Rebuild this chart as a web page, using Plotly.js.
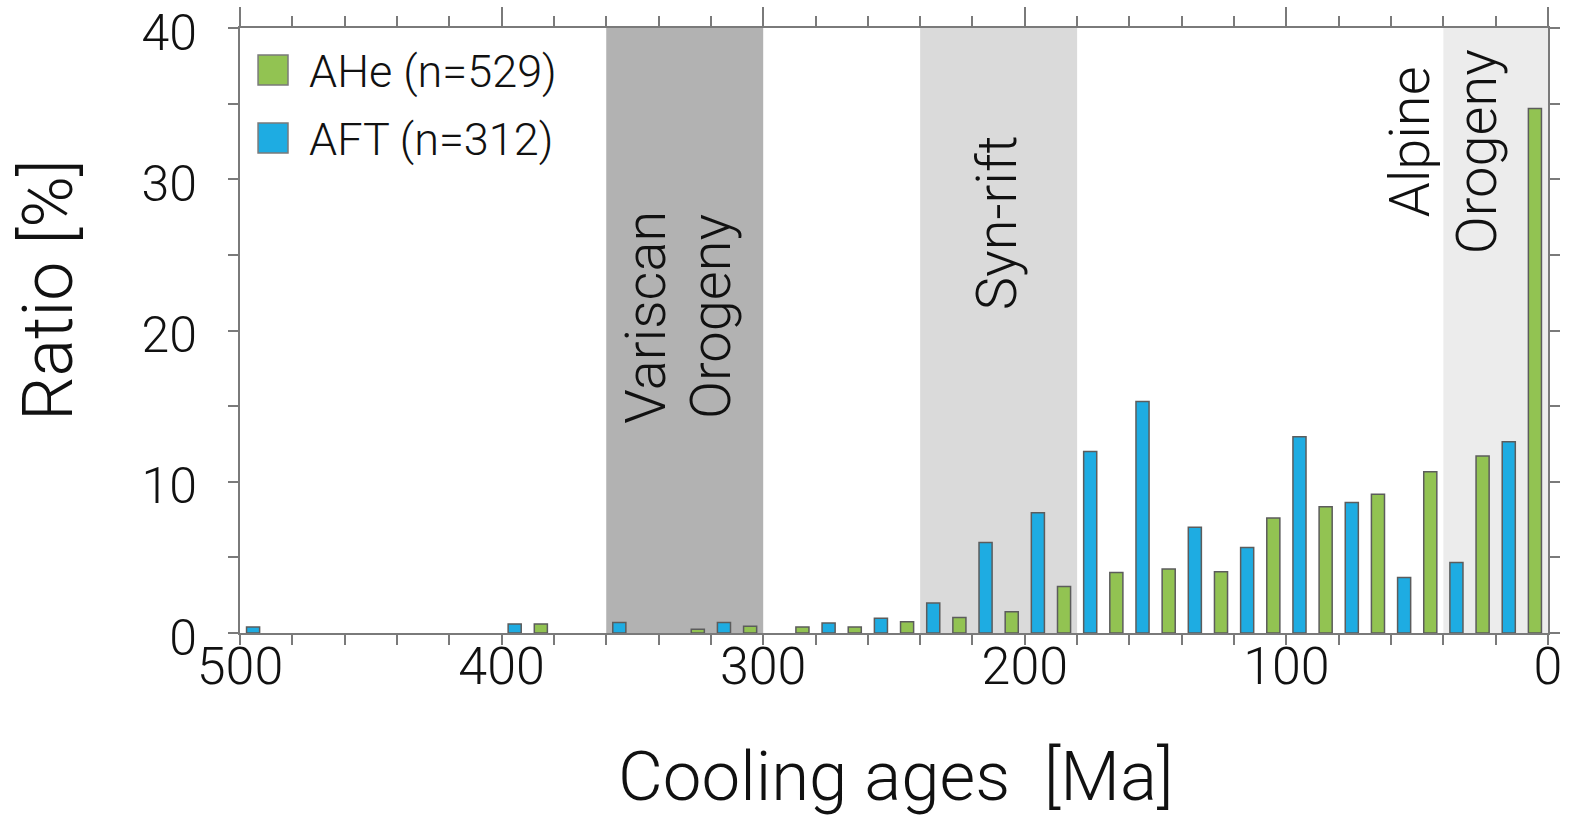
<!DOCTYPE html>
<html>
<head>
<meta charset="utf-8">
<script src="https://cdn.plot.ly/plotly-3.0.1.min.js"></script>
<style>html,body{margin:0;padding:0;background:#fff;}#chart{width:1570px;height:817px;}</style>
</head>
<body>
<div id="chart"></div>
<script>
// ---- data ----
const aftAges  = [495, 395, 355, 315, 275, 255, 235, 215, 195, 175, 155, 135, 115, 95, 75, 55, 35, 15];
const aftRatio = [0.4, 0.6, 0.7, 0.7, 0.66, 0.97, 1.98, 5.98, 7.95, 12.0, 15.3, 7.0, 5.65, 12.97, 8.63, 3.67, 4.66, 12.65];
const aheAges  = [385, 325, 305, 285, 265, 245, 225, 205, 185, 165, 145, 125, 105, 85, 65, 45, 25, 5];
const aheRatio = [0.6, 0.25, 0.45, 0.4, 0.4, 0.75, 1.02, 1.4, 3.08, 4.0, 4.23, 4.05, 7.6, 8.35, 9.17, 10.66, 11.7, 34.68];
const seriesNames = ["AHe (n=529)", "AFT (n=312)"];
const seriesColors = ["#92c352", "#1eace2"];

const periodNames  = ["Variscan", "Syn-rift", "Alpine"];
const periodStart  = [360, 240, 40];
const periodEnd    = [300, 180, 0];
const periodColors = ["#b2b2b2", "#dadada", "#ececec"];

const xTickVals = [500, 400, 300, 200, 100, 0];
const yTickVals = [0, 10, 20, 30, 40];

const FONT = "Roboto, Liberation Sans, Arial, sans-serif";
const W = 300;
const AXC = "#7a7a7a";
const BAR_W = 5;

const traces = [
  {type: "bar", name: seriesNames[1], x: aftAges, y: aftRatio, width: BAR_W,
   marker: {color: seriesColors[1], line: {color: "#5c5c5c", width: 1.5}}, showlegend: false},
  {type: "bar", name: seriesNames[0], x: aheAges, y: aheRatio, width: BAR_W,
   marker: {color: seriesColors[0], line: {color: "#5c5c5c", width: 1.5}}, showlegend: false},
  {type: "scatter", x: [null], y: [null], xaxis: "x2", yaxis: "y", showlegend: false, hoverinfo: "skip"}
];

const shapes = periodNames.map((n, i) => ({
  type: "rect", xref: "x", yref: "paper", x0: periodStart[i], x1: periodEnd[i], y0: 0, y1: 1,
  fillcolor: periodColors[i], line: {width: 0}, layer: "below"
}));

// legend swatches (drawn manually to get large squares)
const legY = [0.9306, 0.8182];
seriesNames.forEach((n, i) => {
  shapes.push({type: "rect", xref: "paper", yref: "paper",
    x0: 0.0138, x1: 0.0367, y0: legY[i] - 0.0248, y1: legY[i] + 0.0248,
    fillcolor: seriesColors[i], line: {color: "#7a7a7a", width: 1.5}});
});

const annFont = {family: FONT, size: 56, color: "#111", weight: W};
const annotations = [
  {text: "Variscan", x: 344.8, y: 20.85, xref: "x", yref: "y", textangle: -90, showarrow: false, font: annFont, xanchor: "center", yanchor: "middle"},
  {text: "Orogeny",  x: 320,   y: 20.95, xref: "x", yref: "y", textangle: -90, showarrow: false, font: annFont, xanchor: "center", yanchor: "middle"},
  {text: "Syn-rift", x: 210.6, y: 27.1,  xref: "x", yref: "y", textangle: -90, showarrow: false, font: annFont, xanchor: "center", yanchor: "middle"},
  {text: "Alpine",   x: 52.4,  y: 32.5,  xref: "x", yref: "y", textangle: -90, showarrow: false, font: annFont, xanchor: "center", yanchor: "middle"},
  {text: "Orogeny",  x: 27.1,  y: 31.8,  xref: "x", yref: "y", textangle: -90, showarrow: false, font: annFont, xanchor: "center", yanchor: "middle"},
  // legend text
  {text: seriesNames[0], x: 0.0510, y: 0.9273, xref: "paper", yref: "paper", showarrow: false, xanchor: "left", yanchor: "middle", font: {family: FONT, size: 45, color: "#111", weight: W}},
  {text: seriesNames[1], x: 0.0510, y: 0.8165, xref: "paper", yref: "paper", showarrow: false, xanchor: "left", yanchor: "middle", font: {family: FONT, size: 45, color: "#111", weight: W}},
  // axis titles
  {text: "Ratio [%]", x: -0.1468, y: 0.567, xref: "paper", yref: "paper", textangle: -90, showarrow: false, xanchor: "center", yanchor: "middle", font: {family: FONT, size: 70, color: "#111", weight: W}},
  {text: "Cooling ages  [Ma]", x: 0.5015, y: -0.2364, xref: "paper", yref: "paper", showarrow: false, xanchor: "center", yanchor: "middle", font: {family: FONT, size: 69, color: "#111", weight: W}}
];

const layout = {
  width: 1570, height: 817,
  margin: {l: 240, r: 22, t: 28, b: 184},
  paper_bgcolor: "#fff", plot_bgcolor: "#fff",
  font: {family: FONT, color: "#111", weight: W},
  barmode: "overlay",
  showlegend: false,
  xaxis: {
    range: [500, 0], tickmode: "array", tickvals: xTickVals, ticktext: xTickVals.map(String),
    ticks: "outside", ticklen: 10, tickwidth: 2, tickcolor: AXC,
    minor: {dtick: 20, tick0: 0, ticks: "outside", ticklen: 10, tickwidth: 2, tickcolor: AXC, showgrid: false},
    showline: true, linecolor: AXC, linewidth: 2, mirror: "ticks",
    showgrid: false, zeroline: false, ticklabeloverflow: "allow",
    tickfont: {family: FONT, size: 52, color: "#111", weight: W}, ticklabelstandoff: -23
  },
  xaxis2: {
    overlaying: "x", side: "top", anchor: "y", range: [500, 0],
    tickmode: "array", tickvals: xTickVals, ticks: "outside", ticklen: 20, tickwidth: 2, tickcolor: AXC,
    showticklabels: false, showline: false, showgrid: false, zeroline: false
  },
  yaxis: {
    range: [0, 40], tickmode: "array", tickvals: yTickVals, ticktext: yTickVals.map(String),
    ticks: "outside", ticklen: 10, tickwidth: 2, tickcolor: AXC,
    minor: {dtick: 5, tick0: 0, ticks: "outside", ticklen: 10, tickwidth: 2, tickcolor: AXC, showgrid: false},
    showline: true, linecolor: AXC, linewidth: 2, mirror: "ticks",
    showgrid: false, zeroline: false, ticklabeloverflow: "allow",
    tickfont: {family: FONT, size: 50, color: "#111", weight: W}, ticklabelstandoff: 21, ticklabelshift: 4
  },
  shapes: shapes,
  annotations: annotations
};

Plotly.newPlot("chart", traces, layout, {staticPlot: true, displayModeBar: false});
</script>
</body>
</html>
